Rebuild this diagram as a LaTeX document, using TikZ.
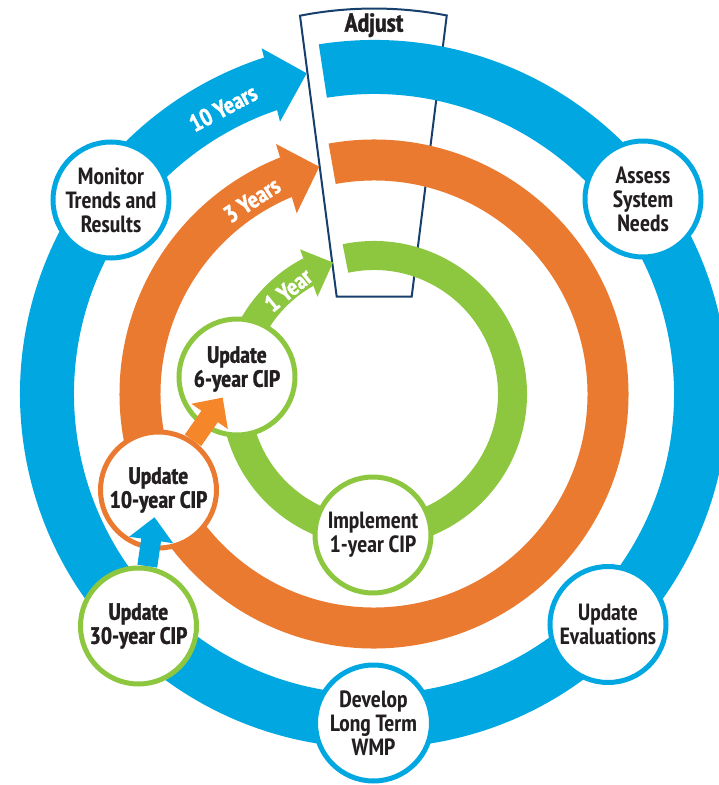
\documentclass[tikz,border=0pt]{standalone}
\usepackage{fontspec}
\setmainfont{PT Sans Narrow}
\newfontfamily\heavy{PT Sans Narrow Bold}[FakeBold=1.3]
\usetikzlibrary{arrows.meta}
\definecolor{cblue}{HTML}{00A7E1}
\definecolor{corange}{HTML}{EB7A31}
\definecolor{cgreen}{HTML}{8DC63F}
\definecolor{carrow}{HTML}{F5862A}
\definecolor{cnavy}{HTML}{173F6D}
\definecolor{ctext}{HTML}{231F20}
\begin{document}
\begin{tikzpicture}[x=1pt,y=1pt,
  stage/.style={circle, draw=#1, line width=5pt, fill=white, minimum size=116pt,
    inner sep=0pt, align=center, text=ctext,
    font=\fontsize{23.5}{24}\selectfont\bfseries},
  stagebold/.style={stage=#1, font=\fontsize{23.5}{24}\selectfont\heavy},
  stagetext/.style={align=center, text=ctext, inner sep=0pt,
    font=\fontsize{23.5}{24}\selectfont\heavy},
  bandlabel/.style={text=white, inner sep=0pt, font=\fontsize{24}{24}\selectfont\heavy},
  linkarrow/.style={draw=#1, line width=20pt, -{Triangle[length=23pt,width=43pt]}}
]
\useasboundingbox (-374,-391) rectangle (345,394);
\clip (-374,-391) rectangle (345,394);

% Adjust box
\draw[cnavy, line width=2pt, fill=white, line join=miter]
  (-74,378.3) arc[start angle=101.07, end angle=79.12, radius=385.5]
  -- (37.7,97.3) -- (-37.3,97.3) -- cycle;
\node[font=\fontsize{26}{26}\selectfont\heavy, text=ctext, anchor=base, inner sep=0pt]
  (adj) at (0,362.3) {Adjust};

% rings
\draw[cblue, line width=54pt] (99:327) arc[start angle=99, end angle=-252, radius=327];
\fill[cblue] (-112.3,345.7) -- (-67.3,320.7) -- (-94,272.3) -- cycle;
\draw[corange, line width=41pt] (100.3:234) arc[start angle=100.3, end angle=-248.4, radius=234];
\fill[corange] (-98,250) -- (-54.7,227.3) -- (-77.3,180.7) -- cycle;
\draw[cgreen, line width=29pt] (101.9:138.5) arc[start angle=101.9, end angle=-242.5, radius=138.5];
\fill[cgreen] (-74,144.7) -- (-41,131.5) -- (-56.5,97.3) -- cycle;

% band labels
\node[bandlabel, rotate=28] (l10) at (-151,286) {10 Years};
\node[bandlabel, rotate=33] (l3) at (-122,194) {3 Years};
\node[bandlabel, rotate=39] (l1) at (-86,104) {1 Year};

% stages
\node[stage=cblue] (mon) at (-263,194) {Monitor\\Trends and\\Results};
\node[stage=cblue] (ass) at (269,195) {Assess\\System\\Needs};
\node[stage=cblue] (eva) at (234,-230.5) {Update\\Evaluations};
\node[stage=cblue] (dev) at (-0.5,-329) {Develop\\Long Term\\WMP};
\node[stage=cgreen] (imp) at (-1,-141) {Implement\\1-year CIP};
\node[stage=cgreen] (u6) at (-137,17) {};
\node[stagetext] (u6t) at (-137,25) {Update\\6-year CIP};
\node[stagebold=corange] (u10) at (-215.5,-96) {Update\\10-year CIP};
\node[stagebold=cgreen] (u30) at (-235.5,-232) {Update\\30-year CIP};

% links
\draw[linkarrow=carrow, shorten >=-35.5pt] (u10) -- (u6);
\draw[linkarrow=cblue, shorten >=-33pt] (u30) -- (u10);
\end{tikzpicture}
\end{document}
